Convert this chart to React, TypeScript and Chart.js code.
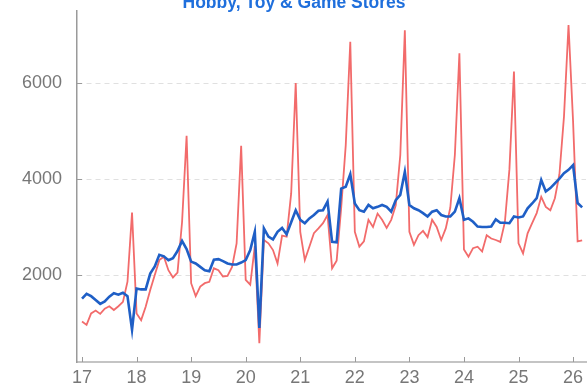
import { useEffect, useRef } from 'react';
import { Chart, registerables } from 'chart.js';

Chart.register(...registerables);

const TITLE = 'Hobby, Toy & Game Stores';
const FIRST_YEAR = 17; // Jan 2017 = 17.0 on the x scale (two-digit years)
const xTickLabels = ['17', '18', '19', '20', '21', '22', '23', '24', '25', '26'];
const yTickValues = [2000, 4000, 6000];

// Not seasonally adjusted (red), monthly, Jan 2017 - Mar 2026
const notSeasonallyAdjusted = [
  1030, 960, 1200, 1260, 1190, 1300, 1350, 1270, 1350, 1440, 1860, 3300,
  1200, 1060, 1340, 1690, 2000, 2310, 2380, 2100, 1950, 2050, 3100, 4900,
  1830, 1560, 1760, 1830, 1860, 2140, 2100, 1970, 1980, 2170, 2660, 4690,
  1900, 1800, 2600, 580, 2730, 2660, 2520, 2240, 2820, 2800, 3700, 6000,
  2900, 2310, 2590, 2870, 2970, 3080, 3250, 2140, 2300, 3400, 4700, 6860,
  2900, 2590, 2700, 3150, 3000, 3280, 3150, 2980, 3150, 3450, 4500, 7100,
  2900, 2630, 2830, 2920, 2790, 3150, 3000, 2730, 2970, 3400, 4500, 6620,
  2530, 2380, 2560, 2590, 2490, 2830, 2760, 2730, 2690, 3100, 4200, 6240,
  2660, 2450, 2870, 3080, 3290, 3630, 3420, 3350, 3600, 4100, 5300, 7210,
  5200, 2700, 2720,
];

// Seasonally adjusted (blue), monthly, Jan 2017 - Mar 2026
const seasonallyAdjusted = [
  1510, 1610, 1560, 1480, 1400, 1450, 1550, 1620, 1590, 1630, 1560, 860,
  1720, 1700, 1700, 2030, 2180, 2420, 2390, 2310, 2350, 2500, 2710, 2540,
  2280, 2240, 2170, 2100, 2080, 2320, 2330, 2290, 2240, 2220, 2220, 2260,
  2310, 2520, 2900, 900, 2970, 2800, 2740, 2900, 2980, 2850, 3100, 3350,
  3150, 3080, 3180, 3250, 3340, 3350, 3530, 2690, 2680, 3800, 3840, 4100,
  3490, 3350, 3320, 3460, 3390, 3420, 3460, 3420, 3320, 3560, 3670, 4150,
  3460, 3390, 3350, 3290, 3220, 3320, 3350, 3250, 3220, 3220, 3320, 3600,
  3150, 3180, 3110, 3010, 3000, 3000, 3010, 3160, 3090, 3090, 3080, 3220,
  3200, 3220, 3390, 3490, 3600, 3980, 3740, 3810, 3910, 4010, 4120, 4190,
  4290, 3500, 3410,
];

const FONT = '"Liberation Sans", Arial, Helvetica, sans-serif';

const toPoints = (arr: number[]) => arr.map((v, i) => ({ x: FIRST_YEAR + i / 12, y: v }));

const overlay = {
  id: 'overlay',
  afterDraw(chart: any) {
    const { ctx, chartArea } = chart;
    const xs = chart.scales.x;
    const ys = chart.scales.y;
    ctx.save();
    ctx.strokeStyle = '#9a9a9a';
    ctx.lineWidth = 1;
    ys.ticks.forEach((t: any) => {
      const py = Math.round(ys.getPixelForValue(t.value)) + 0.5;
      ctx.beginPath();
      ctx.moveTo(chartArea.left, py);
      ctx.lineTo(chartArea.left + 5, py);
      ctx.stroke();
    });
    xs.ticks.forEach((t: any) => {
      const px = Math.round(xs.getPixelForValue(t.value)) + 0.5;
      ctx.beginPath();
      ctx.moveTo(px, chartArea.bottom);
      ctx.lineTo(px, chartArea.bottom - 5);
      ctx.stroke();
    });
    ctx.font = `bold 17.5px ${FONT}`;
    ctx.fillStyle = '#1f6fdc';
    ctx.textAlign = 'center';
    ctx.textBaseline = 'alphabetic';
    ctx.fillText(TITLE, chart.width / 2, 7.5);
    ctx.restore();
  },
};

export default function App() {
  const ref = useRef<HTMLCanvasElement | null>(null);

  useEffect(() => {
    if (!ref.current) return;
    const chart = new Chart(ref.current, {
      type: 'line',
      data: {
        datasets: [
          {
            label: 'Seasonally adjusted',
            data: toPoints(seasonallyAdjusted),
            borderColor: '#1f5fc6',
            borderWidth: 2.6,
            pointRadius: 0,
            tension: 0,
          },
          {
            label: 'Not seasonally adjusted',
            data: toPoints(notSeasonallyAdjusted),
            borderColor: '#f26b6b',
            borderWidth: 1.8,
            pointRadius: 0,
            tension: 0,
          },
        ],
      },
      options: {
        animation: false,
        responsive: false,
        layout: { padding: { top: 11, right: 2, left: 0, bottom: 0 } },
        plugins: {
          legend: { display: false },
          tooltip: { enabled: false },
          title: { display: false },
        },
        scales: {
          x: {
            type: 'linear',
            min: 16.908,
            max: 26.237,
            afterBuildTicks: (s: any) => {
              s.ticks = xTickLabels.map((_, i) => ({ value: FIRST_YEAR + i }));
            },
            afterFit: (s: any) => {
              s.height = 22;
              s.paddingLeft = 0;
              s.paddingRight = 0;
            },
            ticks: {
              autoSkip: false,
              maxRotation: 0,
              padding: 5,
              color: '#777',
              font: { family: FONT, size: 18 },
              callback: (v: any) => xTickLabels[Math.round(Number(v)) - FIRST_YEAR] ?? '',
            },
            grid: { display: false, drawTicks: false },
            border: { display: true, color: '#c4c4c4', width: 2 },
          },
          y: {
            min: 188,
            max: 7500,
            afterBuildTicks: (s: any) => {
              s.ticks = yTickValues.map((v) => ({ value: v }));
            },
            afterFit: (s: any) => {
              s.width = 77;
              s.paddingTop = 0;
              s.paddingBottom = 0;
            },
            ticks: {
              padding: 15,
              color: '#777',
              font: { family: FONT, size: 18 },
              callback: (v: any) => String(v),
            },
            grid: { color: '#e0e0e0', lineWidth: 1, drawTicks: false },
            border: { display: true, color: '#9a9a9a', width: 1.5, dash: [5, 4] },
          },
        },
      },
      plugins: [overlay],
    } as any);
    return () => chart.destroy();
  }, []);

  return (
    <div style={{ position: 'absolute', left: 0, top: 0, width: 588, height: 384, background: '#fff' }}>
      <canvas ref={ref} width={588} height={384} style={{ display: 'block' }} />
    </div>
  );
}
